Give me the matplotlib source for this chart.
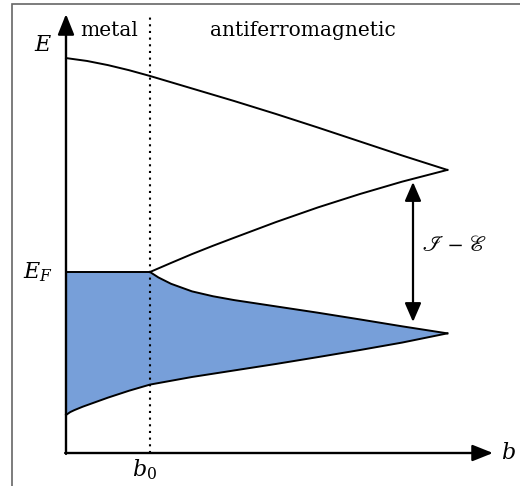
import matplotlib
matplotlib.use('Agg')
import matplotlib.pyplot as plt
from matplotlib.patches import Rectangle

plt.rcParams['font.family'] = 'DejaVu Serif'
plt.rcParams['mathtext.fontset'] = 'dejavuserif'

# band edges, energies in units of E_F, b in units of b0
b_grid = [0, 0.05, 0.1, 0.2, 0.35, 0.5, 0.75, 1.0, 1.5, 2.0, 2.5, 3.0, 3.5, 4.0, 4.54]
band_bottom = [0.210, 0.226, 0.237, 0.256, 0.281, 0.306, 0.344, 0.378, 0.420,
               0.456, 0.492, 0.530, 0.569, 0.610, 0.661]

b_top = [0, 0.25, 0.5, 0.75, 1.0, 1.5, 2.0, 2.5, 3.0, 3.5, 4.0, 4.54]
band_top = [2.182, 2.166, 2.143, 2.115, 2.083, 2.014, 1.945, 1.873, 1.798,
            1.721, 1.644, 1.564]

b_upper = [1.0, 1.25, 1.5, 1.75, 2.0, 2.5, 3.0, 3.5, 4.0, 4.54]
upper_branch = [1.0, 1.050, 1.099, 1.145, 1.189, 1.276, 1.357, 1.431, 1.499, 1.564]

b_lower = [1.0, 1.1, 1.25, 1.5, 1.75, 2.0, 2.5, 3.0, 3.5, 4.0, 4.54]
lower_branch = [1.0, 0.970, 0.935, 0.893, 0.866, 0.845, 0.810, 0.775, 0.738,
                0.700, 0.661]

E_F = 1.0
b0 = 1.0
b_max = 5.083
E_max = 2.425
gap_b = 4.131
gap_lo, gap_hi = 0.724, 1.497

fill_col = '#779FD9'

fig = plt.figure(figsize=(5.2, 4.86), dpi=100)
ax = fig.add_axes([0, 0, 1, 1])
ax.set_xlim(-0.7857, 5.4048)
ax.set_ylim(-0.1823, 2.5028)
ax.axis('off')

# frame around the sketch
fig.patches.append(Rectangle((12 / 520, -0.2), 1.2, 1.2 - 4 / 486,
                             transform=fig.transFigure, fill=False,
                             edgecolor='#666666', lw=1.2))

# filled (occupied) band: E_F up to b0, then the lower split branch
occ_b = [b for b in b_grid if b <= b0]
occ_E = [E_F] * len(occ_b) + lower_branch[1:]
occ_b = occ_b + b_lower[1:]
ax.fill(occ_b + b_grid[::-1], occ_E + band_bottom[::-1], color=fill_col, lw=0)

lw = 1.4
for xs, ys in [(b_grid, band_bottom), (b_top, band_top),
               (b_upper, upper_branch), (b_lower, lower_branch),
               ([0, b0], [E_F, E_F])]:
    ax.plot(xs, ys, color='k', lw=lw, solid_joinstyle='round')

# metal / AFM boundary
ax.plot([b0, b0], [0, E_max], color='k', lw=1.5, ls=(0, (1, 2.2)))

# axes with arrows
head = '-|>,head_length=1.25,head_width=0.5'
ax.annotate('', xy=(0, E_max), xytext=(0, -0.005),
            arrowprops=dict(arrowstyle=head, color='k', lw=1.7,
                            shrinkA=0, shrinkB=0))
ax.annotate('', xy=(b_max, 0), xytext=(-0.01, 0),
            arrowprops=dict(arrowstyle=head, color='k', lw=1.7,
                            shrinkA=0, shrinkB=0))

# gap arrow
ax.annotate('', xy=(gap_b, gap_hi), xytext=(gap_b, gap_lo),
            arrowprops=dict(arrowstyle='<|-|>,head_length=1.15,head_width=0.5',
                            color='k', lw=1.6, shrinkA=0, shrinkB=0))

fs = 14.5
ax.text(-0.16, 2.254, '$E$', fontsize=16, ha='right', va='center')
ax.text(-0.16, E_F, '$E_F$', fontsize=16, ha='right', va='center')
ax.text(0.94, -0.094, '$b_0$', fontsize=16, ha='center', va='center')
ax.text(5.18, 0, '$b$', fontsize=16, ha='left', va='center')
ax.text(0.17, 2.337, 'metal', fontsize=fs, ha='left', va='center')
ax.text(1.71, 2.337, 'antiferromagnetic', fontsize=fs, ha='left', va='center')
ax.text(4.24, 1.149, r'$\mathscr{I}\,-\,\mathscr{E}$', fontsize=16,
        ha='left', va='center', math_fontfamily='stix')

fig.savefig('out.png', dpi=100)
